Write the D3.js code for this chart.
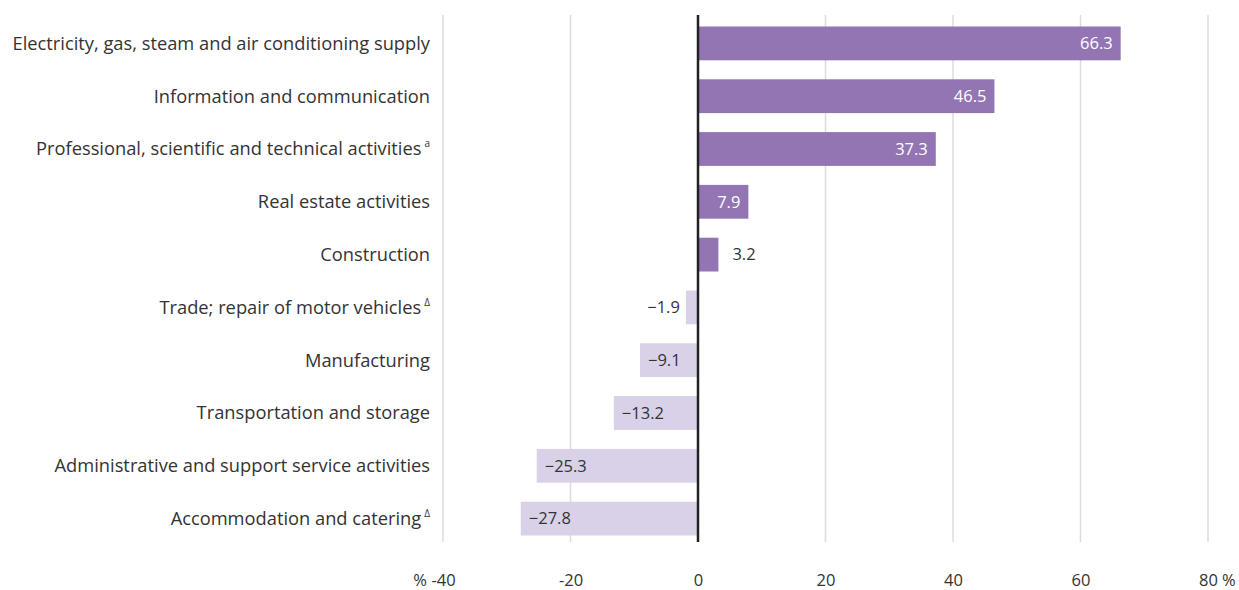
<!DOCTYPE html>
<html><head><meta charset="utf-8">
<script src="https://cdn.jsdelivr.net/npm/d3@7"></script>
<style>body{margin:0;background:#fff;}svg{display:block;font-family:"Open Sans","Noto Sans",sans-serif;}</style>
</head><body>
<svg id="chart" width="1239" height="590"></svg>
<script>
const categories = ["Electricity, gas, steam and air conditioning supply","Information and communication","Professional, scientific and technical activities","Real estate activities","Construction","Trade; repair of motor vehicles","Manufacturing","Transportation and storage","Administrative and support service activities","Accommodation and catering"];
const notes = ["","","a","","","Δ","","","","Δ"];
const values = [66.3,46.5,37.3,7.9,3.2,-1.9,-9.1,-13.2,-25.3,-27.8];
const ticks = [-40,-20,0,20,40,60,80];

const svg = d3.select("#chart");
const x = d3.scaleLinear().domain([-40,80]).range([443,1208]);
const y = d3.scaleBand().domain(categories).range([17,545]).paddingInner(0.36).paddingOuter(0.18);
const data = categories.map((c,i)=>({c, v:values[i], n:notes[i]}));

// gridlines
svg.append("g").selectAll("line").data(ticks.filter(t=>t!==0)).join("line")
  .attr("x1",d=>x(d)).attr("x2",d=>x(d)).attr("y1",15).attr("y2",542)
  .attr("stroke","#dcdcdc").attr("stroke-width",1.5);

// bars
svg.append("g").selectAll("rect").data(data).join("rect")
  .attr("x",d=>x(Math.min(0,d.v))).attr("width",d=>Math.abs(x(d.v)-x(0)))
  .attr("y",d=>y(d.c)).attr("height",y.bandwidth())
  .attr("fill",d=>d.v>=0?"#9275b2":"#d9d1e8");

// zero line
svg.append("line").attr("x1",x(0)).attr("x2",x(0)).attr("y1",15).attr("y2",542)
  .attr("stroke","#222").attr("stroke-width",2.5);

// value labels
const fmt = v => (v<0?"\u2212":"")+Math.abs(v).toFixed(1);
svg.append("g").selectAll("text").data(data).join("text")
  .attr("y",d=>y(d.c)+y.bandwidth()/2).attr("dy","0.35em")
  .attr("font-size",16.5)
  .each(function(d){
    const w = Math.abs(x(d.v)-x(0));
    const t = d3.select(this);
    if(d.v>=0){
      if(w>40){ t.attr("x",x(d.v)-8).attr("text-anchor","end").attr("fill","#fff"); }
      else { t.attr("x",x(d.v)+14).attr("text-anchor","start").attr("fill","#333"); }
    } else {
      if(w>40){ t.attr("x",x(d.v)+8).attr("text-anchor","start").attr("fill","#333"); }
      else { t.attr("x",x(d.v)-6).attr("text-anchor","end").attr("fill","#333"); }
    }
  })
  .text(d=>fmt(d.v));

// category labels
const lab = svg.append("g").selectAll("text").data(data).join("text")
  .attr("x",430).attr("y",d=>y(d.c)+y.bandwidth()/2).attr("dy","0.35em")
  .attr("text-anchor","end").attr("font-size",18.3).attr("fill","#333");
lab.append("tspan").text(d=>d.c);
lab.filter(d=>d.n).append("tspan").attr("font-size",10).attr("dx",3).attr("dy","-0.8em").text(d=>d.n);

// x axis
const axis = d3.axisBottom(x).tickValues(ticks).tickSize(0).tickPadding(0).tickFormat(d=>String(d));
const ag = svg.append("g").attr("transform","translate(0,574)").call(axis);
ag.select(".domain").remove();
ag.selectAll("text").attr("font-size",16.5).attr("fill","#333").attr("font-family","\"Open Sans\",\"Noto Sans\",sans-serif");
svg.append("text").attr("x",x(-40)-16).attr("y",574).attr("dy","0.71em").attr("text-anchor","end").attr("font-size",16.5).attr("fill","#333").text("%");
svg.append("text").attr("x",x(80)+14).attr("y",574).attr("dy","0.71em").attr("text-anchor","start").attr("font-size",16.5).attr("fill","#333").text("%");
</script>
</body></html>
